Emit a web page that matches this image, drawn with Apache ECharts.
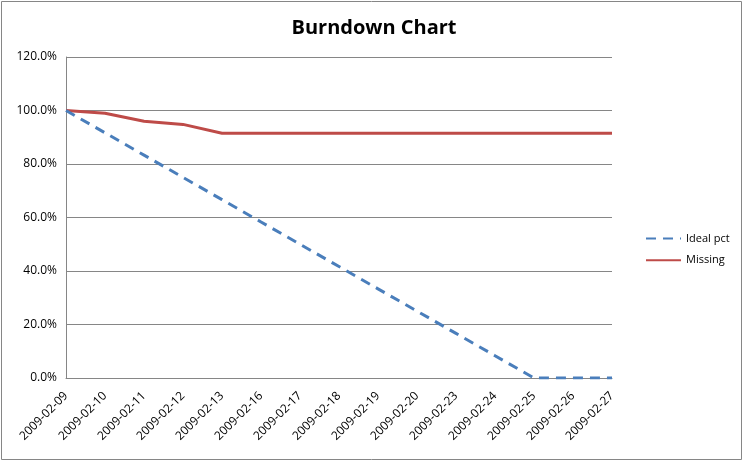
<!DOCTYPE html>
<html><head><meta charset="utf-8">
<script src="https://cdn.jsdelivr.net/npm/echarts@6/dist/echarts.min.js"></script>
<style>html,body{margin:0;padding:0;background:#fff}#c{width:745px;height:463px}</style>
</head><body><div id="c"></div>
<script>
const categories = ['2009-02-09','2009-02-10','2009-02-11','2009-02-12','2009-02-13','2009-02-16','2009-02-17','2009-02-18','2009-02-19','2009-02-20','2009-02-23','2009-02-24','2009-02-25','2009-02-26','2009-02-27'];
const idealPct = [100, 91.67, 83.33, 75, 66.67, 58.33, 50, 41.67, 33.33, 25, 16.67, 8.33, 0, 0, 0];
const missing = [100, 99, 96, 94.8, 91.5, 91.5, 91.5, 91.5, 91.5, 91.5, 91.5, 91.5, 91.5, 91.5, 91.5];
const yTicks = [0, 20, 40, 60, 80, 100, 120];

const chart = echarts.init(document.getElementById('c'));
const font = 'Open Sans, Noto Sans, sans-serif';
chart.setOption({
  animation: false,
  title: { text: 'Burndown Chart', left: 369, top: 13, textAlign: 'center',
    textStyle: { fontFamily: font, fontSize: 20, fontWeight: 'bold', color: '#000' } },
  graphic: [{ type: 'rect', shape: { x: 1.5, y: 1.5, width: 740, height: 458 },
    style: { fill: null, stroke: '#868686', lineWidth: 1 }, silent: true }],
  legend: { orient: 'vertical', left: 640, top: 227, itemGap: 9, itemWidth: 35, itemHeight: 16,
    itemStyle: { opacity: 0, borderWidth: 0 },
    textStyle: { fontFamily: font, fontSize: 11, color: '#000' },
    data: ['Ideal pct', 'Missing'] },
  grid: { left: 66, top: 57, width: 546, height: 321, containLabel: false },
  xAxis: { type: 'category', data: categories, boundaryGap: false,
    axisLine: { lineStyle: { color: '#868686', width: 1 } },
    axisTick: { show: false },
    axisLabel: { rotate: 45, interval: 0, fontFamily: font, fontSize: 12, color: '#000', margin: 16 } },
  yAxis: { type: 'value', min: 0, max: 120, interval: 20,
    axisLine: { show: true, lineStyle: { color: '#868686', width: 1 } },
    axisTick: { show: false },
    splitLine: { lineStyle: { color: '#868686', width: 1 } },
    axisLabel: { fontFamily: font, fontSize: 12, color: '#000', margin: 9,
      formatter: v => yTicks.includes(v) ? v.toFixed(1) + '%' : '' } },
  series: [
    { name: 'Ideal pct', type: 'line', data: idealPct, symbol: 'none', z: 3,
      itemStyle: { color: '#4A7EBB' },
      lineStyle: { color: '#4A7EBB', width: 3, type: [10, 7] } },
    { name: 'Missing', type: 'line', data: missing, symbol: 'none', z: 2,
      itemStyle: { color: '#BE4B48' },
      lineStyle: { color: '#BE4B48', width: 3 } }
  ]
});
</script></body></html>
